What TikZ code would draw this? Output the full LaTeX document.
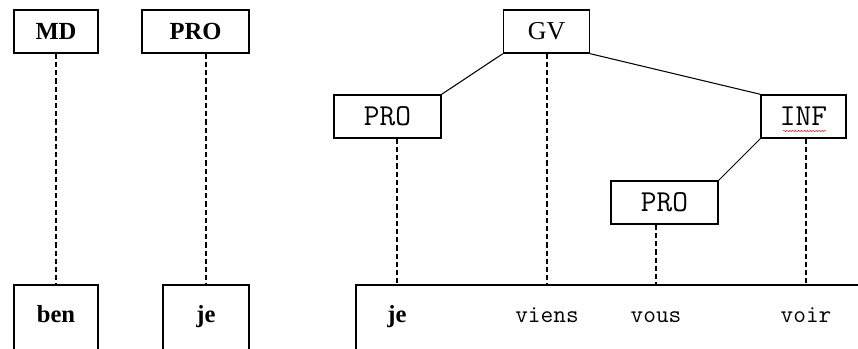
\documentclass[tikz,border=0pt]{standalone}
\usepackage{fontspec}
\setmainfont{Liberation Serif}
\usetikzlibrary{decorations.pathmorphing}
\tikzset{
  cat/.style={draw,line width=1.2pt,minimum height=1.29cm,inner sep=0pt,
    font=\fontsize{26}{28}\selectfont\ttfamily},
  catb/.style={cat,font=\fontsize{21}{24}\selectfont\rmfamily\bfseries},
  catr/.style={cat,font=\fontsize{22}{24}\selectfont\rmfamily},
  word/.style={inner sep=0pt,anchor=base,font=\fontsize{21}{24}\selectfont\ttfamily},
  wordb/.style={word,font=\fontsize{21}{24}\selectfont\rmfamily\bfseries},
  tie/.style={dash pattern=on 4.5pt off 2.5pt,line width=0.9pt},
  branch/.style={line width=0.9pt},
  frame/.style={line width=1.2pt}
}

\begin{document}
\begin{tikzpicture}[x=0.03cm,y=-0.03cm]
    \useasboundingbox (0,0) rectangle (858,349);
    % left: two words on their own
    \node[catb,minimum width=2.52cm] (md) at (56,31.5) {MD};
    \node[catb,minimum width=3.21cm] (proA) at (195.5,31.5) {PRO};
    \draw[frame] (14,349) |- (98,285) coordinate (topA) -- (98,349);
    \draw[frame] (163,349) |- (249,285) coordinate (topB) -- (249,349);
    \node[wordb] (ben) at (56,323) {ben};
    \node[wordb] (jeA) at (206,323) {je};
    \draw[tie] (md.south -| ben) -- (ben |- topA);
    \draw[tie] (proA.south -| jeA) -- (jeA |- topB);
    % right: the tree over the sentence
    \node[catr,minimum width=2.58cm] (gv) at (546.5,31.5) {GV};
    \node[cat,minimum width=3.21cm] (proB) at (387.5,116.5) {PRO};
    \node[cat,minimum width=2.55cm] (inf) at (803.5,116.5) {INF};
    \node[cat,minimum width=3.21cm] (proC) at (664.5,202.5) {PRO};
    \draw[branch] (gv.south west) -- (proB.north east);
    \draw[branch] (gv.south east) -- (inf.north west);
    \draw[branch] (inf.south west) -- (proC.north east);
    \draw[red,line width=0.4pt,decorate,decoration={snake,amplitude=0.5pt,segment length=2.5pt}]
        (783,131) -- (826,131);
    \draw[frame] (356,349) |- (858,285);
    \coordinate (topC) at (356,285);
    \node[wordb] (jeB) at (397,323) {je};
    \node[word] (viens) at (547,323) {viens};
    \node[word] (vous) at (656,323) {vous};
    \node[word] (voir) at (806,323) {voir};
    \draw[tie] (proB.south -| jeB) -- (jeB |- topC);
    \draw[tie] (gv.south -| viens) -- (viens |- topC);
    \draw[tie] (proC.south -| vous) -- (vous |- topC);
    \draw[tie] (inf.south -| voir) -- (voir |- topC);
\end{tikzpicture}
\end{document}
